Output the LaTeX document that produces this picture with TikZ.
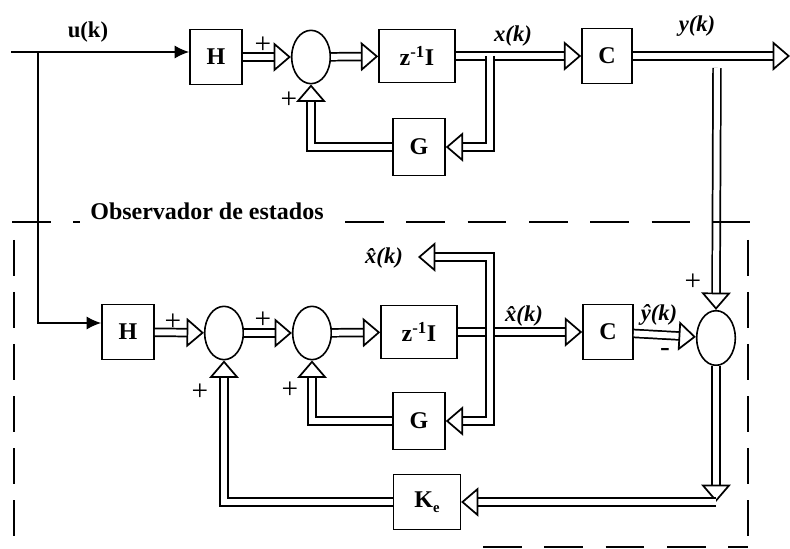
\documentclass[tikz,border=0pt]{standalone}
\usepackage{fontspec}
\setmainfont{Liberation Serif}
\usetikzlibrary{arrows.meta,shapes.geometric,calc}
\begin{document}
\begin{tikzpicture}[x=0.75pt,y=-0.75pt,
  blk/.style={draw, line width=1.2pt, inner sep=0pt, font=\bfseries\fontsize{18}{20}\selectfont},
  sumn/.style={draw, ellipse, line width=1.2pt, minimum width=29pt, minimum height=40pt, inner sep=0pt},
  darrow/.style={double, double distance=4.5pt, line width=1.3pt, -{Triangle[open,fill=white,length=13pt,width=22pt]}},
  sarrow/.style={line width=1.4pt, -{Latex[length=11pt,width=10pt]}},
  lbl/.style={font=\bfseries\itshape\fontsize{17}{20}\selectfont},
  pm/.style={font=\fontsize{22}{24}\selectfont},
  dsh/.style={line width=1.2pt, dash pattern=on 29pt off 17pt},
  dshv/.style={line width=1.2pt, dash pattern=on 27pt off 12pt}]
\useasboundingbox (0,0) rectangle (790,549);

% top row
\node[blk, minimum width=39pt, minimum height=41pt] (H1) at (216,57) {H};
\node[sumn] (S1) at (311,57) {};
\node[blk, minimum width=57pt, minimum height=40pt] (Z1) at (417,56) {z\textsuperscript{-1}I};
\node[blk, minimum width=37.5pt, minimum height=41pt] (C1) at (607,56) {C};
\node[blk, minimum width=39pt, minimum height=43pt] (G1) at (419,147) {G};

% bottom row
\node[blk, minimum width=39pt, minimum height=41pt] (H2) at (128,332) {H};
\node[sumn] (S21) at (224,333) {};
\node[sumn] (S22) at (312,333) {};
\node[blk, minimum width=57pt, minimum height=40pt] (Z2) at (419,332) {z\textsuperscript{-1}I};
\node[blk, minimum width=37.5pt, minimum height=41pt] (C2) at (608,332) {C};
\node[sumn, minimum height=41pt] (S3) at (716,338) {};
\node[blk, minimum width=39pt, minimum height=43pt] (G2) at (419,421) {G};
\node[blk, minimum width=50pt, minimum height=41pt] (Ke) at (427,502) {K\raisebox{-0.45ex}{\fontsize{11}{12}\selectfont e}};

% coordinates
\coordinate (uin) at (11,52);
\coordinate (ub) at (38,52);
\coordinate (yout) at (790,56);
\coordinate (xb1) at (490,56);
\coordinate (yb) at (717,68);
\coordinate (xb2) at (490,332);
\coordinate (xh) at (418,257);
\coordinate (kc) at (716,502);

% input
\draw[sarrow] (uin) -- ($(H1.west)+(0,-5)$);
\draw[sarrow] (ub) |- ($(H2.west)+(0,-9)$);

% top connectors
\draw[darrow] (H1) -- (S1);
\draw[darrow] (S1) -- (Z1);
\draw[darrow] (Z1) -- (C1);
\draw[darrow] (C1) -- (yout);
\draw[darrow] (xb1) |- (G1.east);
\draw[darrow] (G1.west) -| (S1.south);
\draw[darrow] (yb) -- (S3.north);

% bottom connectors
\draw[darrow] (H2) -- (S21);
\draw[darrow] (S21) -- (S22);
\draw[darrow] (S22) -- (Z2);
\draw[darrow] (Z2) -- (C2);
\draw[darrow] (xb2) |- (xh);
\draw[darrow] (xb2) |- (G2.east);
\draw[darrow] (G2.west) -| (S22.south);
\draw[darrow] (C2) -- (S3);
\draw[darrow] (S3.south) -- (kc);
\draw[darrow] (kc) -- (Ke.east);
\draw[darrow] (Ke.west) -| (S21.south);

% labels
\node[font=\bfseries\fontsize{17}{20}\selectfont] at (88,32) {u(k)};
\node[lbl] at (513,36) {x(k)};
\node[lbl] at (697,26) {y(k)};
\node[lbl] at (384,258) {\^{x}(k)};
\node[lbl] at (524,316) {\^{x}(k)};
\node[lbl] at (659,315) {\^{y}(k)};
\node[pm] at (263,45) {+};
\node[pm] at (289,100) {+};
\node[pm] at (173,322) {+};
\node[pm] at (263,320) {+};
\node[pm] at (290,390) {+};
\node[pm] at (200,392) {+};
\node[pm] at (693,282) {+};
\node[pm] at (665,352) {-};
\node[font=\bfseries\fontsize{18}{20}\selectfont] at (207,211) {Observador de estados};

% dashed observer frame
\draw[dsh] (12,222) -- (80,222);
\draw[dsh] (345,222) -- (750,222);
\draw[dshv] (14,240) -- (14,549);
\draw[dshv] (748,240) -- (748,549);
\draw[dsh] (483,547) -- (748,547);
\end{tikzpicture}
\end{document}
